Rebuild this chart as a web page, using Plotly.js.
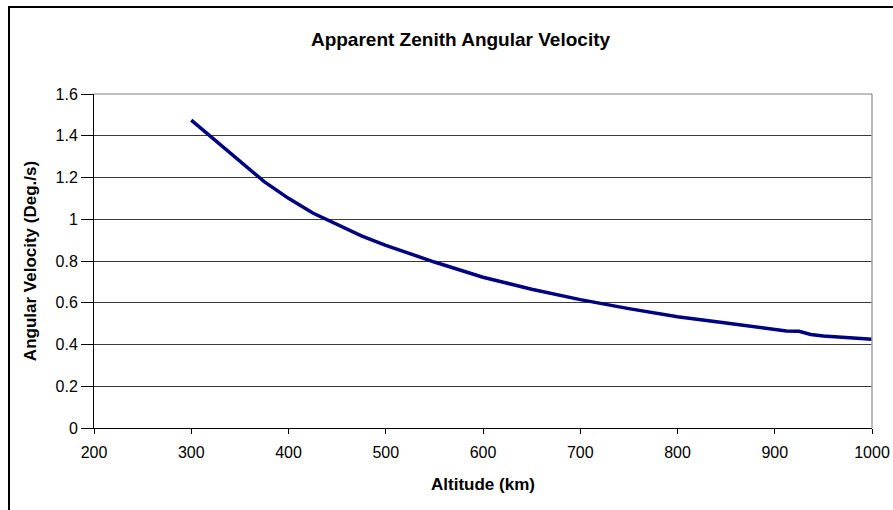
<!DOCTYPE html>
<html>
<head>
<meta charset="utf-8">
<script src="https://cdn.plot.ly/plotly-3.0.1.min.js"></script>
<style>
  html, body { margin: 0; padding: 0; background: #fff; overflow: hidden; }
  #wrap { position: relative; width: 893px; height: 510px; }
  #chart { width: 893px; height: 510px; }
  #frame { position: absolute; left: 8px; top: 6px; width: 900px; height: 520px;
           border-top: 2px solid #000; border-left: 2px solid #000;
           pointer-events: none; box-sizing: border-box; }
</style>
</head>
<body>
<div id="wrap">
  <div id="chart"></div>
  <div id="frame"></div>
</div>
<script>
// Data
const altitudeKm = [300, 375, 400, 425, 475, 500, 550, 600, 650, 700, 750, 800, 850, 900, 912, 925, 937, 950, 975, 1000];
const angularVelocity = [1.475, 1.18, 1.10, 1.03, 0.92, 0.875, 0.795, 0.722, 0.665, 0.615, 0.572, 0.533, 0.503, 0.472, 0.465, 0.463, 0.448, 0.441, 0.432, 0.425];
const xTickValues = [200, 300, 400, 500, 600, 700, 800, 900, 1000];
const yTickValues = [0, 0.2, 0.4, 0.6, 0.8, 1, 1.2, 1.4, 1.6];
const yTickLabels = ["0", "0.2", "0.4", "0.6", "0.8", "1", "1.2", "1.4", "1.6"];

const FONT = "'Liberation Sans', Arial, sans-serif";

const trace = {
  x: altitudeKm,
  y: angularVelocity,
  type: 'scatter',
  mode: 'lines',
  line: { color: '#000080', width: 3.5 },
  hoverinfo: 'x+y',
  showlegend: false
};

const layout = {
  width: 893,
  height: 510,
  margin: { l: 94, r: 21, t: 94, b: 82, pad: 0 },
  paper_bgcolor: '#ffffff',
  plot_bgcolor: '#ffffff',
  font: { family: FONT, color: '#000000', size: 16 },
  title: {
    text: '<b>Apparent Zenith Angular Velocity</b>',
    font: { family: FONT, size: 19, color: '#000000' },
    xref: 'container', yref: 'container',
    x: 460.5 / 893, xanchor: 'center',
    y: 1 - 39 / 510, yanchor: 'middle'
  },
  xaxis: {
    range: [200, 1000],
    tickmode: 'array',
    tickvals: xTickValues,
    ticktext: xTickValues.map(String),
    ticks: 'outside',
    ticklen: 5,
    tickwidth: 1,
    tickcolor: '#000000',
    ticklabelstandoff: 5,
    showline: true,
    linecolor: '#000000',
    linewidth: 1,
    showgrid: false,
    zeroline: false,
    tickfont: { family: FONT, size: 16, color: '#000000' },
    title: {
      text: '<b>Altitude (km)</b>',
      font: { family: FONT, size: 17, color: '#000000' },
      standoff: 17
    },
    fixedrange: true
  },
  yaxis: {
    range: [0, 1.6],
    tickmode: 'array',
    tickvals: yTickValues,
    ticktext: yTickLabels,
    ticks: 'outside',
    ticklen: 12,
    tickwidth: 1,
    tickcolor: '#000000',
    showline: true,
    linecolor: '#000000',
    linewidth: 1,
    showgrid: true,
    gridcolor: '#3a3a3a',
    gridwidth: 1,
    zeroline: false,
    tickfont: { family: FONT, size: 16, color: '#000000' },
    title: {
      text: '<b>Angular Velocity (Deg./s)</b>',
      font: { family: FONT, size: 17, color: '#000000' },
      standoff: 14
    },
    fixedrange: true
  },
  shapes: [
    // plot-area top and right borders (grey)
    { type: 'line', xref: 'paper', yref: 'paper', x0: 1, x1: 1, y0: 0, y1: 1,
      line: { color: '#a0a0a0', width: 1.5 }, layer: 'above' },
    { type: 'line', xref: 'paper', yref: 'paper', x0: 0, x1: 1, y0: 1, y1: 1,
      line: { color: '#808080', width: 1 }, layer: 'above' }
  ]
};

Plotly.newPlot('chart', [trace], layout, { displayModeBar: false, staticPlot: true });
</script>
</body>
</html>
